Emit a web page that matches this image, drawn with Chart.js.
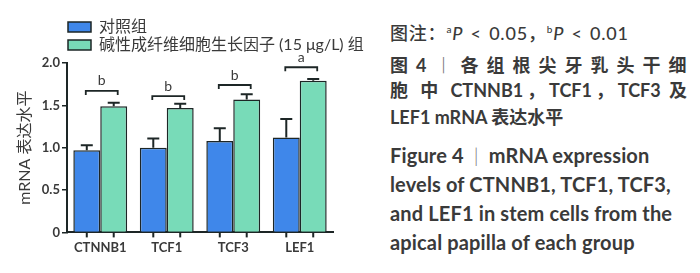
<!DOCTYPE html>
<html lang="zh">
<head>
<meta charset="utf-8">
<script src="https://cdn.jsdelivr.net/npm/chart.js@4.4.1/dist/chart.umd.min.js"></script>
<style>
  body { margin: 0; background: #fff; }
  #wrap { position: relative; width: 700px; height: 273px; overflow: hidden; }
  #chart { position: absolute; left: 0; top: 0; }
  .cap { position: absolute; left: 390px; white-space: nowrap; color: #3a3a3a;
         font-family: "Lato", "Noto Sans CJK SC", sans-serif; }
  .zh { font-size: 18px; line-height: 24px; font-weight: 700; }
  .zh.note { font-weight: 500; letter-spacing: 0.8px; word-spacing: 2px; }
  .zh.spaced { letter-spacing: 8px; }
  .zh.just { width: 297px; text-align: justify; text-align-last: justify; }
  .en { font-size: 20px; line-height: 24px; font-weight: 700; letter-spacing: 0.15px; }
  .cap sup { font-size: 10px; vertical-align: 7px; line-height: 0; }
  .bar { font-weight: 300; color: #777; }
</style>
</head>
<body>
<div id="wrap">
  <canvas id="chart" width="380" height="273"></canvas>
  <div class="cap zh note" style="top:21px">图注：<sup>a</sup><i>P</i> &lt; 0.05，<sup>b</sup><i>P</i> &lt; 0.01</div>
  <div class="cap zh spaced" style="top:53px">图4<span class="bar">丨</span>各组根尖牙乳头干细</div>
  <div class="cap zh just" style="top:78px">胞 中 CTNNB1，TCF1，TCF3 及</div>
  <div class="cap zh" style="top:105px">LEF1 mRNA 表达水平</div>
  <div class="cap en" style="top:143px">Figure 4&nbsp;&nbsp;<span class="bar">|</span>&nbsp;&nbsp;mRNA expression</div>
  <div class="cap en" style="top:172px">levels of CTNNB1, TCF1, TCF3,</div>
  <div class="cap en" style="top:201px">and LEF1 in stem cells from the</div>
  <div class="cap en" style="top:230px">apical papilla of each group</div>
</div>
<script>
  // values
  const categories = ['CTNNB1', 'TCF1', 'TCF3', 'LEF1'];
  const seriesNames = ['对照组', '碱性成纤维细胞生长因子 (15 μg/L) 组'];
  const controlMeans = [0.97, 1.00, 1.08, 1.12];
  const controlErrors = [0.06, 0.11, 0.15, 0.22];
  const fgfMeans = [1.49, 1.47, 1.57, 1.79];
  const fgfErrors = [0.04, 0.05, 0.06, 0.02];
  const sigLetters = ['b', 'b', 'b', 'a'];
  const sigLevels = [1.67, 1.61, 1.74, 1.95];
  const yTickValues = [0, 0.5, 1.0, 1.5, 2.0];
  const yTickLabels = ['0', '0.5', '1.0', '1.5', '2.0'];

  const ink = '#1d2626';
  const textColor = '#3a3a3a';

  // one-sided error bars, tick marks under each bar, significance brackets
  const extras = {
    id: 'extras',
    afterDatasetsDraw(chart) {
      const ctx = chart.ctx;
      const y = chart.scales.y;
      const area = chart.chartArea;
      const errs = [controlErrors, fgfErrors];
      const means = [controlMeans, fgfMeans];
      ctx.save();
      ctx.strokeStyle = ink;
      ctx.lineWidth = 2;
      chart.data.datasets.forEach((ds, d) => {
        chart.getDatasetMeta(d).data.forEach((bar, i) => {
          const top = y.getPixelForValue(means[d][i] + errs[d][i]);
          ctx.beginPath();
          ctx.moveTo(bar.x, bar.y);
          ctx.lineTo(bar.x, top);
          ctx.moveTo(bar.x - 6, top);
          ctx.lineTo(bar.x + 6, top);
          ctx.stroke();
          // tick under bar
          ctx.beginPath();
          ctx.moveTo(bar.x, area.bottom);
          ctx.lineTo(bar.x, area.bottom + 5);
          ctx.stroke();
        });
      });
      const a = chart.getDatasetMeta(0).data;
      const b = chart.getDatasetMeta(1).data;
      ctx.lineWidth = 1.8;
      ctx.fillStyle = textColor;
      ctx.font = '14px Lato, "Noto Sans", sans-serif';
      ctx.textAlign = 'center';
      ctx.textBaseline = 'bottom';
      sigLetters.forEach((letter, i) => {
        const yy = y.getPixelForValue(sigLevels[i]);
        const x1 = a[i].x - 1, x2 = b[i].x + 4;
        ctx.beginPath();
        ctx.moveTo(x1, yy + 4);
        ctx.lineTo(x1, yy);
        ctx.lineTo(x2, yy);
        ctx.lineTo(x2, yy + 4);
        ctx.stroke();
        ctx.fillText(letter, (x1 + x2) / 2, yy - 3);
      });
      ctx.restore();
    }
  };

  // move the legend rows in line with the plot and let the long label run on
  const legendShift = {
    id: 'legendShift',
    afterLayout(chart) {
      chart.legend.left = 66;
      chart.legend.right = chart.width;
      chart.legend.width = chart.width - 66;
    }
  };

  new Chart(document.getElementById('chart'), {
    type: 'bar',
    data: {
      labels: categories,
      datasets: [
        { label: seriesNames[0], data: controlMeans, backgroundColor: '#3f87ea',
          borderColor: ink, borderWidth: 1.5 },
        { label: seriesNames[1], data: fgfMeans, backgroundColor: '#78dbb8',
          borderColor: ink, borderWidth: 1.5 }
      ]
    },
    options: {
      responsive: false,
      animation: false,
      layout: { padding: { top: 11, right: 47, bottom: 9, left: 0 } },
      datasets: { bar: { categoryPercentage: 0.81, barPercentage: 1 } },
      plugins: {
        tooltip: { enabled: false },
        legend: {
          position: 'top',
          align: 'start',
          labels: {
            boxWidth: 23, boxHeight: 10, padding: 2, color: textColor,
            font: { family: 'Lato, "Noto Sans CJK SC"', size: 16 }
          }
        }
      },
      scales: {
        x: {
          grid: { display: false, drawTicks: false, tickLength: 0 },
          border: { display: true, color: ink, width: 2 },
          ticks: { color: textColor, padding: 8,
                   font: { family: 'Lato', size: 13, weight: 'bold' } }
        },
        y: {
          min: 0, max: 2,
          afterBuildTicks(s) { s.ticks = yTickValues.map(v => ({ value: v })); },
          afterFit(s) { s.width = 67; s.paddingTop = 63; },
          grid: { drawOnChartArea: false, drawTicks: true, tickLength: 5, color: ink, lineWidth: 1.5 },
          border: { display: true, color: ink, width: 2 },
          ticks: {
            color: textColor, padding: 2,
            font: { family: 'Lato', size: 13, weight: 'bold' },
            callback: (v) => yTickLabels[yTickValues.indexOf(v)]
          },
          title: {
            display: true, text: 'mRNA 表达水平', color: textColor,
            font: { family: 'Lato, "Noto Sans CJK SC"', size: 16 },
            padding: { top: 15, bottom: 0 }
          }
        }
      }
    },
    plugins: [extras, legendShift]
  });
</script>
</body>
</html>
